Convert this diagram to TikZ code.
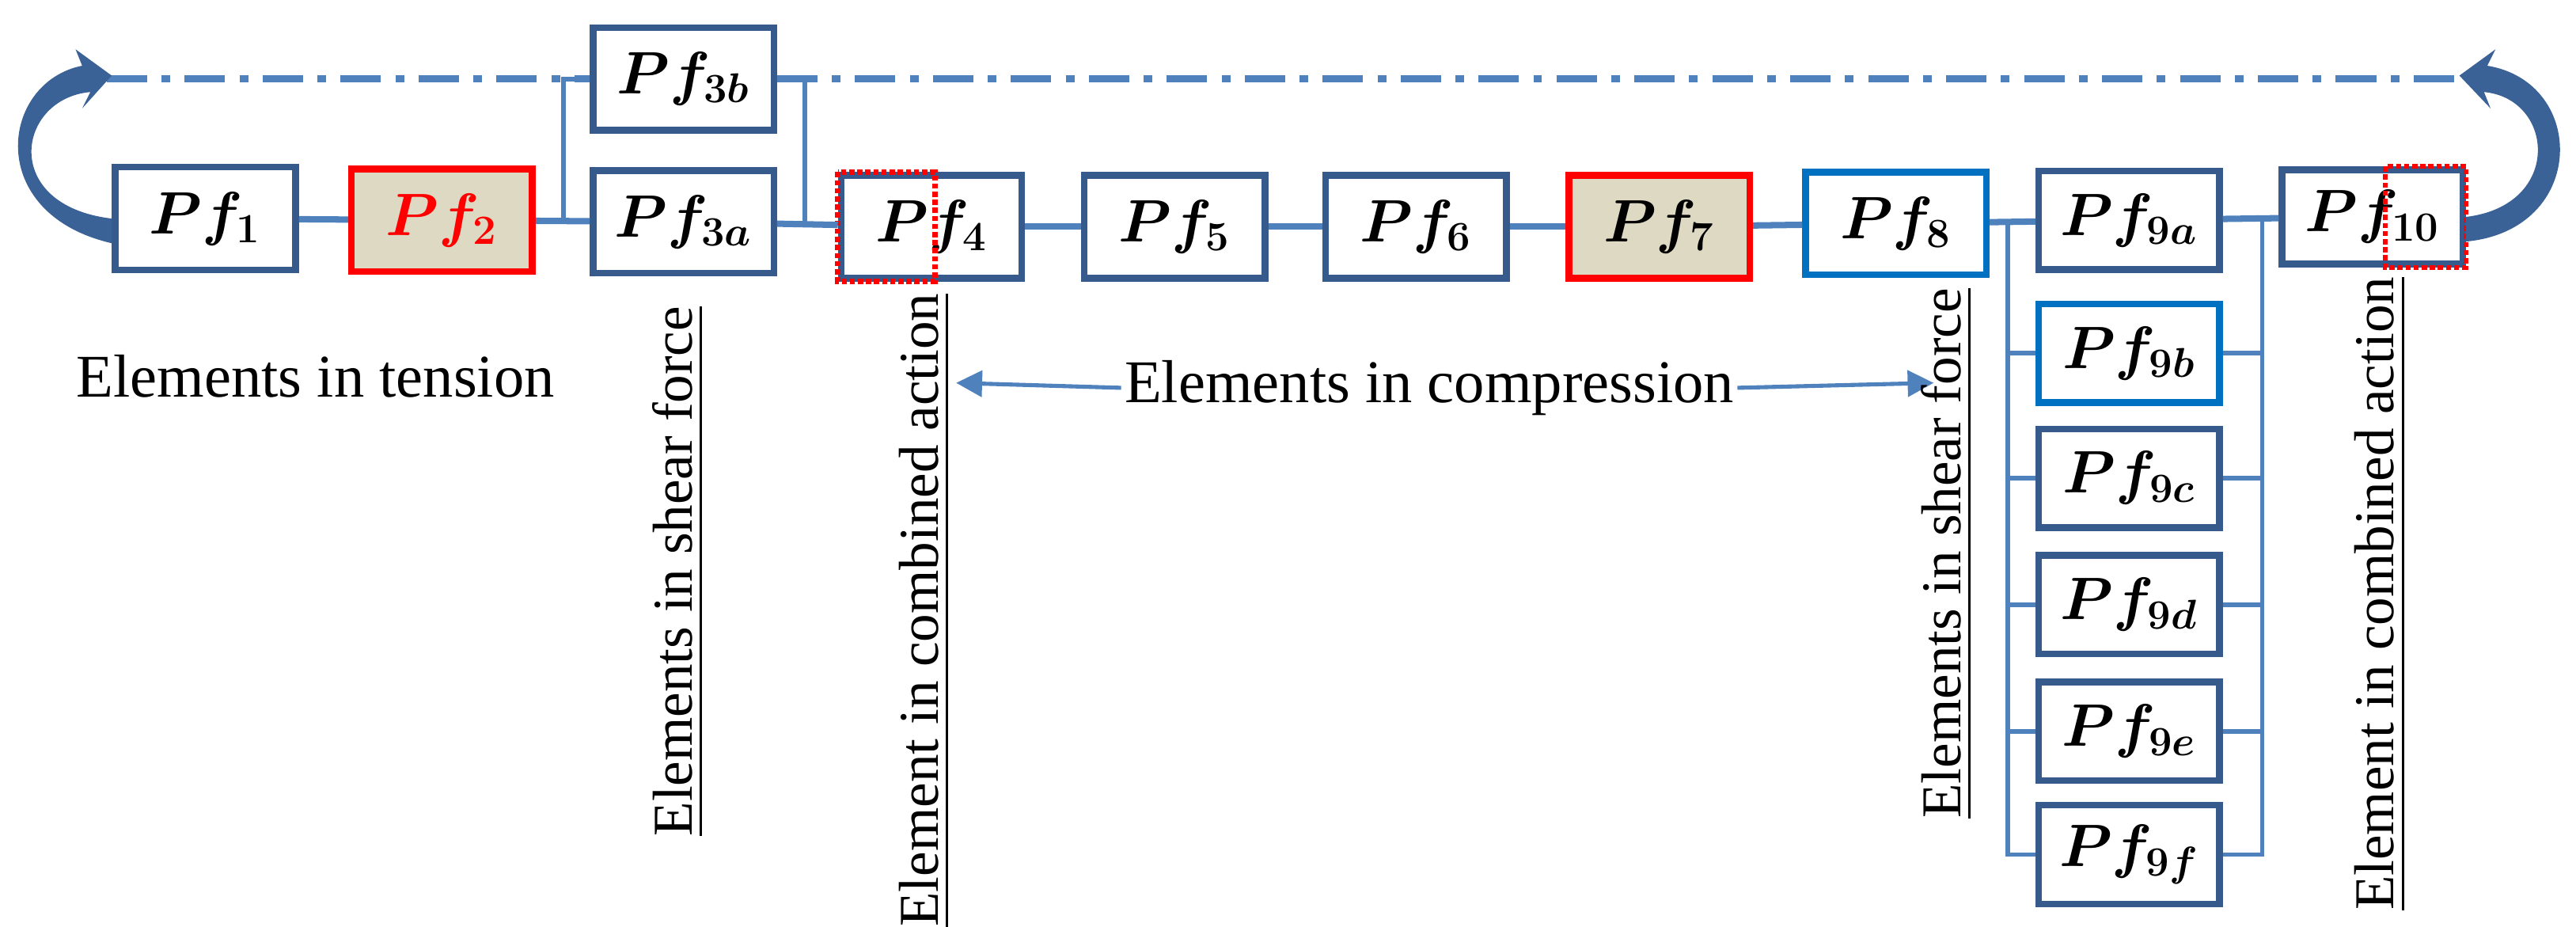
\documentclass[tikz,border=0pt]{standalone}
\usepackage{amsmath,bm}
\usepackage{fontspec}
\setmainfont{Liberation Serif}
\usetikzlibrary{arrows.meta}
\definecolor{boxblue}{RGB}{54,90,140}
\definecolor{brightblue}{RGB}{0,112,192}
\definecolor{linkblue}{RGB}{79,129,189}
\definecolor{sand}{RGB}{221,217,195}
\tikzset{
  pf/.style={draw=boxblue, line width=2.3pt, fill=white, minimum width=2.2cm, minimum height=1.25cm, inner sep=0pt, font=\fontsize{22}{24}\selectfont},
  hot/.style={pf, draw=red, fill=sand},
  bright/.style={pf, draw=brightblue},
  link/.style={draw=linkblue, line width=2.2pt},
  bus/.style={draw=linkblue, line width=1.6pt},
  note/.style={font=\fontsize{21}{23}\selectfont},
  vnote/.style={font=\fontsize{19.5}{22}\selectfont, rotate=90, anchor=west, inner sep=1pt}
}
\begin{document}
\begin{tikzpicture}[x=0.02cm,y=-0.02cm]
\useasboundingbox (0,0) rectangle (1568,564);
%\draw [help lines] (0,0) grid (1568,564);
% main chain
\node[pf] (P1) at (125,133) {$\bm{Pf_1}$};
\node[hot] (P2) at (269,134) {\color{red}$\bm{Pf_2}$};
\node[pf] (P3b) at (416,48) {$\bm{Pf_{3b}}$};
\node[pf] (P3a) at (416,135) {$\bm{Pf_{3a}}$};
\node[pf] (P4) at (567,138) {$\bm{Pf_4}$};
\node[pf] (P5) at (715,138) {$\bm{Pf_5}$};
\node[pf] (P6) at (862,138) {$\bm{Pf_6}$};
\node[hot] (P7) at (1010,138) {$\bm{Pf_7}$};
\node[bright] (P8) at (1154,136) {$\bm{Pf_8}$};
\node[pf, minimum height=1.15cm] (P10) at (1444,132) {$\bm{Pf_{10}}$};

% parallel group 9
\foreach \s/\y/\st in {a/134/pf, b/215/bright, c/291/pf, d/368/pf, e/445/pf, f/520/pf}
  \node[\st, minimum height=1.2cm] (P9\s) at (1296,\y) {$\bm{Pf_{9\s}}$};

% combined-action marks
\draw[red, densely dotted, line width=1.8pt] (P4.north west) rectangle ([xshift=-1.1cm]P4.south east);
\draw[red, densely dotted, line width=1.8pt] ([xshift=1.3cm]P10.north west) rectangle (P10.south east);

% links
\draw[link] (P1) -- (P2);
\draw[link] (P4) -- (P5);
\draw[link] (P5) -- (P6);
\draw[link] (P6) -- (P7);
\draw[link] (P7) -- (P8);
\coordinate (L3) at (343,135);
\coordinate (R3) at (490,135);
\draw[link] (P2) -- (P3a);
\draw[link] (P3a) -- (P4);
\draw[bus] (L3) |- (P3b.west);
\draw[bus] (R3) |- (P3b.east);
\coordinate (L9) at (1222,134);
\coordinate (R9) at (1377,134);
\draw[link] (P8) -- (P9a);
\draw[link] (P9a) -- (P10);
\draw[bus] (L9) |- (P9f.west);
\draw[bus] (R9) |- (P9f.east);
\foreach \s in {b,c,d,e}{
  \draw[bus] (P9\s.west) -- (P9\s.west -| L9);
  \draw[bus] (P9\s.east) -- (P9\s.east -| R9);
}

% return line
\coordinate (TL) at (65,48);
\coordinate (TR) at (1495,48);
\draw[linkblue, line width=2.4pt, dash pattern=on 14pt off 5pt on 3pt off 5pt] (TL) -- (P3b) (P3b) -- (TR);
\fill[boxblue!80!linkblue] (P1.west) .. controls (0,125) and (10,60) .. (55,56) -- (50,66) -- (68,46) -- (46,30) -- (50,40) .. controls (0,50) and (-10,130) .. ([yshift=-0.3cm]P1.west) -- cycle;
\fill[boxblue!80!linkblue] (P10.east) .. controls (1560,125) and (1555,60) .. (1512,56) -- (1516,66) -- (1497,46) -- (1519,30) -- (1514,40) .. controls (1575,50) and (1575,140) .. ([yshift=-0.3cm]P10.east) -- cycle;

% captions
\node[note] (tens) at (192,229) {Elements in tension};
\node[note, inner sep=1pt] (comp) at (870,236) {Elements in compression};
\coordinate (cl) at (582,233);
\coordinate (cr) at (1177,233);
\draw[linkblue, line width=1.4pt, -{Triangle[length=9pt,width=9pt]}] (comp.west) -- (cl);
\draw[linkblue, line width=1.4pt, -{Triangle[length=9pt,width=9pt]}] (comp.east) -- (cr);
\node[vnote] (s1) at (413,511) {\underline{Elements in shear force}};
\node[vnote] (c1) at (563,566) {\underline{Element in combined action}};
\node[vnote] (s2) at (1185,500) {\underline{Elements in shear force}};
\node[vnote] (c2) at (1449,556) {\underline{Element in combined action}};
\end{tikzpicture}
\end{document}
